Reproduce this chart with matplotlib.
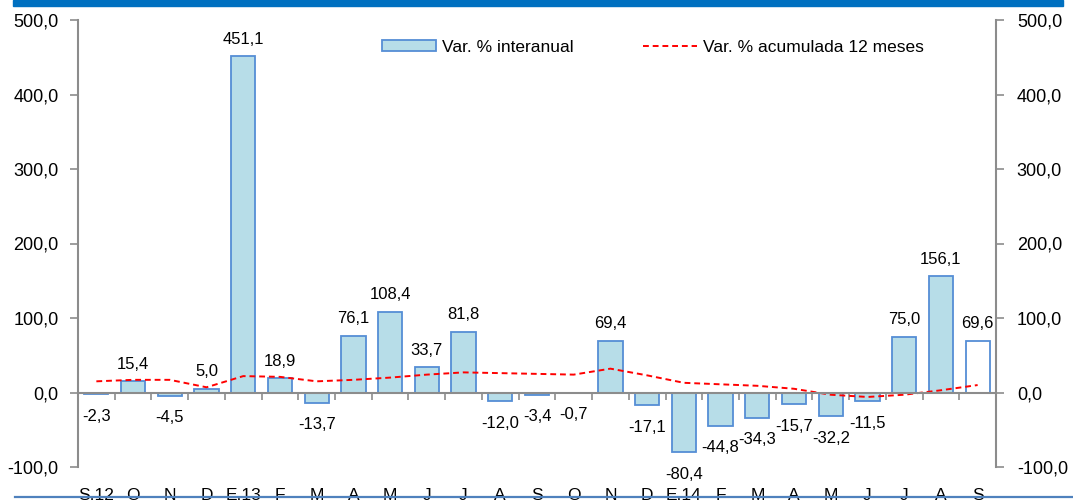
import numpy as np
import matplotlib
matplotlib.use("Agg")
import matplotlib.pyplot as plt
from matplotlib.patches import Patch, Rectangle
from matplotlib.lines import Line2D
import matplotlib.transforms as mtransforms
from matplotlib.ticker import FuncFormatter

plt.rcParams['font.family'] = ['Liberation Sans', 'DejaVu Sans']

categories = ['S.12', 'O', 'N', 'D', 'E.13', 'F', 'M', 'A', 'M', 'J', 'J', 'A', 'S',
              'O', 'N', 'D', 'E.14', 'F', 'M', 'A', 'M', 'J', 'J', 'A', 'S']
var_interanual = [-2.3, 15.4, -4.5, 5.0, 451.1, 18.9, -13.7, 76.1, 108.4, 33.7, 81.8, -12.0,
                  -3.4, -0.7, 69.4, -17.1, -80.4, -44.8, -34.3, -15.7, -32.2, -11.5, 75.0,
                  156.1, 69.6]
var_acumulada = [15, 17, 17, 7, 22, 21, 15, 17, 20, 24, 27, 26, 25, 24, 32, 23, 13, 11, 9,
                 5, -3, -6, -3, 3, 10]
yticks = [-100, 0, 100, 200, 300, 400, 500]

W, H = 1073, 503
fig = plt.figure(figsize=(W / 100, H / 100), dpi=100)
ax = fig.add_axes([78 / W, 1 - 467 / H, (996 - 78) / W, (467 - 20) / H])

x = np.arange(len(categories))
bar_fill = '#B7DDE8'
bar_edge = '#558ED5'
gray = '#8C8C8C'

fills = [bar_fill] * (len(categories) - 1) + ['white']
ax.bar(x, var_interanual, width=0.66, color=fills, edgecolor=bar_edge, linewidth=1.3, zorder=2)
ax.plot(x, var_acumulada, color='#FF0000', lw=1.4, dashes=(3, 2), zorder=3)

fmt = lambda v: f"{v:.1f}".replace('.', ',')
for xi, v in zip(x, var_interanual):
    off = 12.2 if v >= 0 else -15.8
    ax.annotate(fmt(v), (xi, v), xytext=(0, off), textcoords='offset points',
                ha='center', va='center', fontsize=12, color='black', zorder=4)

ax.set_xlim(-0.5, len(categories) - 0.5)
ax.set_ylim(-100, 500)
ax.set_yticks(yticks)
ax.yaxis.set_major_formatter(FuncFormatter(lambda v, p: fmt(v)))
ax.tick_params(axis='y', direction='out', length=6, width=1.2, color=gray, labelsize=13, pad=8)

for s in ['top', 'right']:
    ax.spines[s].set_visible(False)
ax.spines['left'].set_color(gray)
ax.spines['left'].set_linewidth(1.5)
ax.spines['bottom'].set_position(('data', 0))
ax.spines['bottom'].set_color(gray)
ax.spines['bottom'].set_linewidth(1.5)
ax.spines['bottom'].set_zorder(3)
ax.set_xticks(np.arange(0.5, len(categories) - 1, 1))
ax.tick_params(axis='x', direction='out', length=5, width=1.2, color=gray, labelbottom=False)

trans = mtransforms.blended_transform_factory(ax.transData, ax.transAxes)
for xi, lab in zip(x, categories):
    ax.text(xi, -(495 - 467) / (467 - 20), lab, transform=trans, ha='center', va='center',
            fontsize=12.5, clip_on=False)

ax2 = ax.twinx()
ax2.set_ylim(-100, 500)
ax2.set_yticks(yticks)
ax2.yaxis.set_major_formatter(FuncFormatter(lambda v, p: fmt(v)))
ax2.tick_params(axis='y', direction='out', length=6, width=1.2, color=gray, labelsize=13, pad=9)
for s in ['top', 'left', 'bottom']:
    ax2.spines[s].set_visible(False)
ax2.spines['right'].set_color(gray)
ax2.spines['right'].set_linewidth(1.5)

handles = [Patch(facecolor=bar_fill, edgecolor=bar_edge, linewidth=1.3),
           Line2D([], [], color='#FF0000', lw=1.4, dashes=(3, 2))]
leg = fig.legend(handles, ['Var. % interanual', 'Var. % acumulada 12 meses'], ncol=2,
                 loc='center left', bbox_to_anchor=(382 / W, 1 - 47 / H), frameon=False,
                 fontsize=12.5, handlelength=3.1, handletextpad=0.35, columnspacing=4.0,
                 handleheight=0.55, borderpad=0, borderaxespad=0)

fig.add_artist(Rectangle((13 / W, 1 - 6 / H), (1063 - 13) / W, 6 / H, color='#0070C0',
                         transform=fig.transFigure, zorder=10))
fig.add_artist(Line2D([15 / W, 1], [1 - 497 / H, 1 - 497 / H], color='#4F81BD', lw=1.6,
                      transform=fig.transFigure, zorder=10))

fig.savefig('out.png', dpi=100)
